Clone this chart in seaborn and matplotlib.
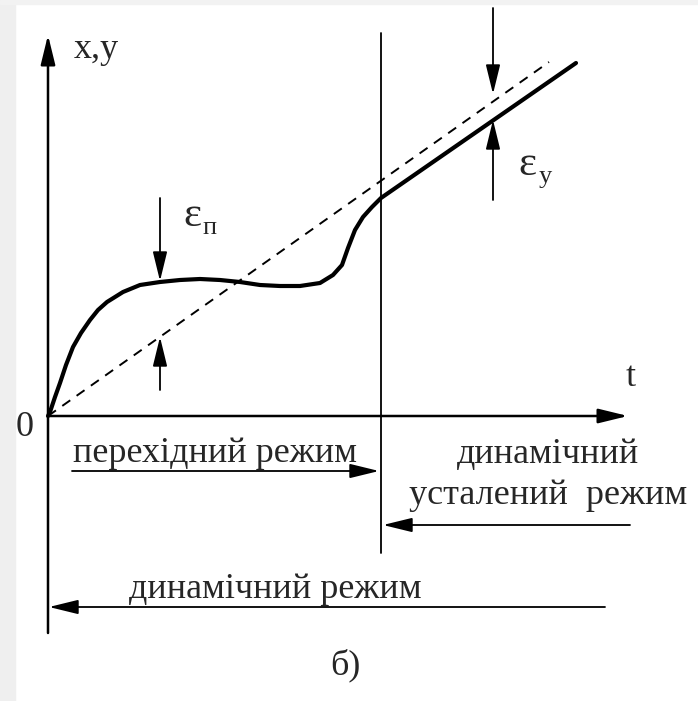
import matplotlib
matplotlib.use('Agg')
import matplotlib.pyplot as plt
from matplotlib.patches import Rectangle
import seaborn as sns

sns.set_style('white')
plt.rcParams['font.family'] = ['Liberation Serif', 'DejaVu Serif']

# крива перехідного процесу y(t)
t_curve = [0.0, 0.02, 0.07, 0.12, 0.18, 0.25, 0.33, 0.42, 0.50, 0.59, 0.75, 0.92, 1.12,
           1.32, 1.52, 1.72, 1.92, 2.12, 2.32, 2.52, 2.72, 2.85, 2.94, 3.00, 3.07,
           3.15, 3.24, 3.33, 5.28]
y_curve = [0.0, 0.04, 0.19, 0.33, 0.51, 0.69, 0.83, 0.96, 1.06, 1.14, 1.24, 1.31, 1.34,
           1.36, 1.37, 1.36, 1.34, 1.31, 1.30, 1.30, 1.33, 1.41, 1.51, 1.68, 1.86,
           1.99, 2.09, 2.18, 3.53]

# задана (вхідна) величина x(t) - пряма
t_input = [0.0, 5.01]
x_input = [0.0, 3.54]

# межа перехідного режиму
t_boundary = 3.33

# похибки: (t, початок стрілки, кінець стрілки)
eps_p_t = 1.12
eps_p_top = [2.18, 1.35]
eps_p_bottom = [0.26, 0.79]
eps_y_t = 4.45
eps_y_top = [4.08, 3.22]
eps_y_bottom = [2.16, 2.96]

fig = plt.figure(figsize=(6.98, 7.01), dpi=100)
fig.patches.append(Rectangle((0, 0), 15 / 698, 1, transform=fig.transFigure,
                             color='#efefef', zorder=0))
fig.patches.append(Rectangle((0, 1 - 4 / 701), 1, 4 / 701, transform=fig.transFigure,
                             color='#f2f2f2', zorder=0))
ax = fig.add_axes([0, 0, 1, 1])
ax.set_xlim(-0.48, 6.50)
ax.set_ylim(-2.85, 4.16)
ax.axis('off')

sns.lineplot(x=t_curve, y=y_curve, sort=False, color='black', lw=3.0, ax=ax)
sns.lineplot(x=t_input, y=x_input, sort=False, color='black', lw=1.4,
             linestyle=(0, (5, 4)), ax=ax)

arr = dict(arrowstyle='-|>,head_length=0.9,head_width=0.22', color='black',
           lw=1.3, shrinkA=0, shrinkB=0, mutation_scale=20)
axis_arr = dict(arr, lw=1.8)

def arrow(x0, y0, x1, y1, props=arr):
    ax.annotate('', xy=(x1, y1), xytext=(x0, y0), arrowprops=props)

# осі
arrow(0, -2.17, 0, 3.81, axis_arr)
arrow(0, 0, 5.80, 0, axis_arr)
ax.plot([t_boundary, t_boundary], [-1.37, 3.83], color='black', lw=1.3)

# похибки
arrow(eps_p_t, eps_p_top[0], eps_p_t, eps_p_top[1])
arrow(eps_p_t, eps_p_bottom[0], eps_p_t, eps_p_bottom[1])
arrow(eps_y_t, eps_y_top[0], eps_y_t, eps_y_top[1])
arrow(eps_y_t, eps_y_bottom[0], eps_y_t, eps_y_bottom[1])

# режими
arrow(0.24, -0.55, 3.31, -0.55)
arrow(5.82, -1.09, 3.35, -1.09)
arrow(5.57, -1.91, 0.01, -1.91)

fs = 26
ax.text(0.26, 3.66, 'x,y', fontsize=fs, ha='left', va='center')
ax.text(5.83, 0.38, 't', fontsize=fs, ha='center', va='center')
ax.text(-0.23, -0.12, '0', fontsize=fs, ha='center', va='center')
ax.text(1.44, 2.00, 'ε', fontsize=31, ha='center', va='center')
ax.text(1.62, 1.88, 'п', fontsize=19, ha='center', va='center')
ax.text(4.79, 2.51, 'ε', fontsize=31, ha='center', va='center')
ax.text(4.97, 2.39, 'y', fontsize=19, ha='center', va='center')

ax.text(1.67, -0.37, 'перехідний режим', fontsize=fs, ha='center', va='center')
ax.text(5.00, -0.39, 'динамічний', fontsize=fs, ha='center', va='center')
ax.text(5.00, -0.79, 'усталений  режим', fontsize=fs, ha='center', va='center')
ax.text(2.27, -1.74, 'динамічний режим', fontsize=fs, ha='center', va='center')
ax.text(2.97, -2.49, 'б)', fontsize=fs, ha='center', va='center')

fig.savefig('out.png', dpi=100)
